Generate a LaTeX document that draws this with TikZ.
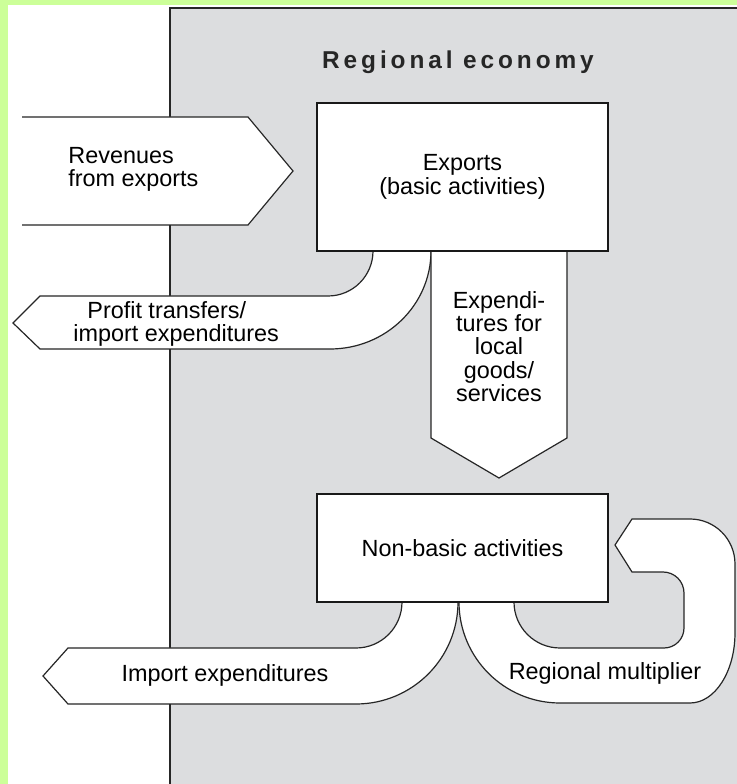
\documentclass[tikz,border=0pt]{standalone}
\usepackage{fontspec}
\setmainfont{Liberation Sans}
\newfontfamily\spacedfont[LetterSpace=16]{Liberation Sans}
\usepackage{xcolor}
\usepackage{tikz}
\definecolor{framegreen}{RGB}{204,255,153}
\definecolor{regiongray}{RGB}{220,221,223}

\begin{document}
\begin{tikzpicture}[x=0.5pt,y=0.5pt,
  flow/.style={draw=black!85,line width=0.6pt,fill=white},
  activity/.style={draw=black!90,line width=1pt,fill=white,minimum width=145.5pt,align=center,font=\fontsize{11.7}{11.7}\selectfont},
  lbl/.style={font=\fontsize{11.7}{11.7}\selectfont,inner sep=0pt}]
\useasboundingbox (0,0) rectangle (737,784);
\fill[framegreen] (0,0) rectangle (737,784);
\fill[white] (8,0) rectangle (737,779);
\fill[regiongray] (170,0) rectangle (737,776);
\draw[line width=1pt,black!85] (170,0) -- (170,776) -- (737,776);
\node[font=\spacedfont\bfseries\fontsize{12.2}{12.2}\selectfont,text=black!85] (region) at (458,722) {Regional economy};

\draw[flow] (22,667) -- (248,667) -- (293,613) -- (248,559) -- (22,559);
\draw[flow] (13,461) -- (40,488) -- (328,488) arc[start angle=270,end angle=360,radius=45] -- (431,533) arc[start angle=0,end angle=-90,x radius=101,y radius=98] -- (40,435) -- cycle;
\draw[flow] (431,533) -- (431,346) -- (499,306) -- (567,346) -- (567,533);
\draw[flow] (43,108) -- (68,136) -- (356,136) arc[start angle=270,end angle=360,radius=46] -- (458,182) arc[start angle=0,end angle=-90,radius=102] -- (68,80) -- cycle;
\draw[flow] (459,182) arc[start angle=180,end angle=270,radius=101] -- (690,81) arc[start angle=270,end angle=360,x radius=45,y radius=70] -- (735,220) arc[start angle=0,end angle=90,radius=45] -- (632,265) -- (615,239) -- (632,212) -- (663,212) arc[start angle=90,end angle=0,radius=21] -- (684,156) arc[start angle=0,end angle=-90,radius=20] -- (560,136) arc[start angle=270,end angle=180,radius=46] -- cycle;

\node[activity,minimum height=74pt] (exports) at (462.5,607) {Exports\\(basic activities)};
\node[activity,minimum height=54pt] (nonbasic) at (462.5,236) {Non-basic activities};

\node[lbl,align=left,anchor=west] (revenues) at (68,614.5) {Revenues\\from exports};
\node[lbl,align=left,anchor=west] (profit) at (73,460) {\hspace*{7pt}Profit transfers/\\import expenditures};
\node[lbl,align=center] (localspend) at (499,437.5) {Expendi-\\tures for\\local\\goods/\\services};
\node[lbl] (imports) at (225,109) {Import expenditures};
\node[lbl] (multiplier) at (605,111) {Regional multiplier};
\end{tikzpicture}
\end{document}
